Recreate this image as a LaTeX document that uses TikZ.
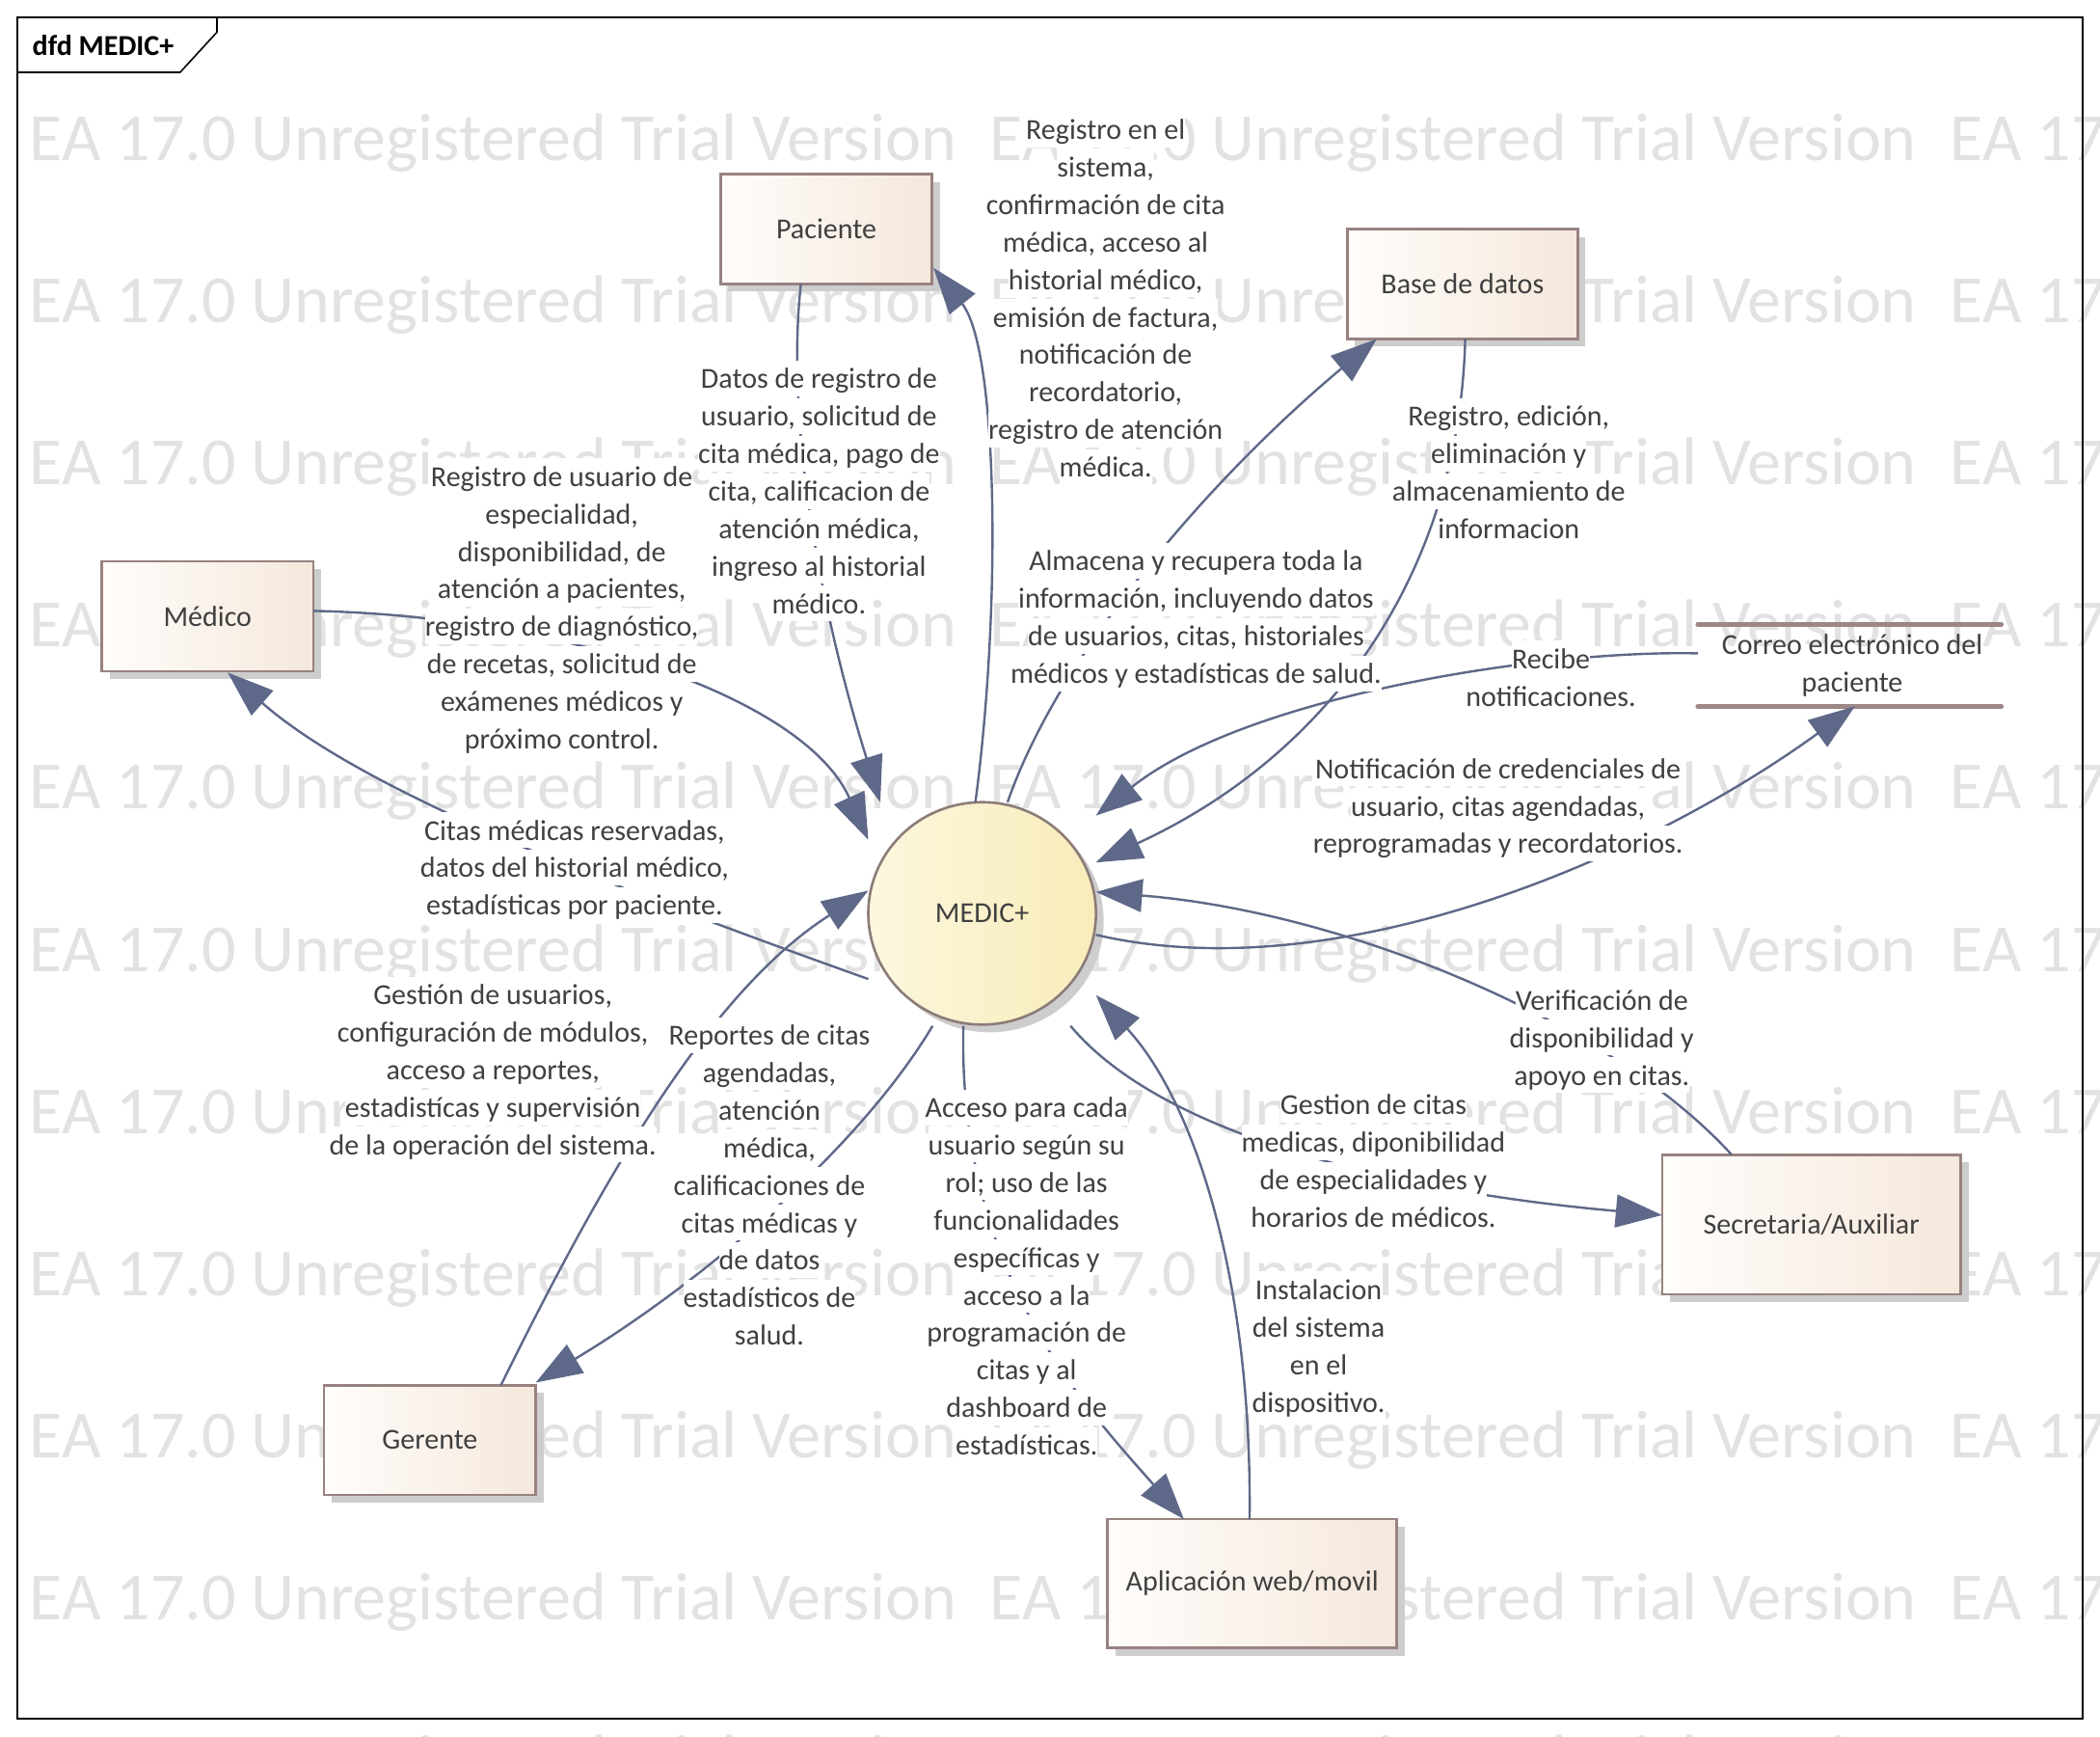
\documentclass[tikz,border=0pt]{standalone}
\usepackage{fontspec}
\setmainfont{Carlito}
\usetikzlibrary{arrows.meta,calc,shadows,shapes.geometric}
\definecolor{boxL}{RGB}{255,253,251}
\definecolor{boxR}{RGB}{245,232,220}
\definecolor{boxB}{RGB}{152,130,128}
\definecolor{cirL}{RGB}{252,247,222}
\definecolor{cirR}{RGB}{248,236,186}
\definecolor{cirB}{RGB}{140,124,120}
\definecolor{shad}{RGB}{205,205,205}
\definecolor{flowc}{RGB}{94,104,136}
\definecolor{txt}{RGB}{64,64,64}
\definecolor{wmc}{RGB}{226,226,226}
\definecolor{dsc}{RGB}{155,135,133}
\setlength{\fboxsep}{0pt}
\newcommand\wl[1]{\colorbox{white}{\rule[-4pt]{0pt}{18.5pt}#1}}
\def\px{0.6945pt}
\begin{document}
\begin{tikzpicture}[x=0.6945pt,y=-0.6945pt,
  entity/.style={rectangle, draw=boxB, line width=1.3pt, left color=boxL, right color=boxR,
    text=txt, font=\fontsize{15}{19.45}\selectfont,
    drop shadow={shadow xshift=4pt, shadow yshift=-4pt, fill=shad, opacity=1}},
  proc/.style={ellipse, draw=cirB, line width=1.3pt, left color=cirL, right color=cirR,
    text=txt, font=\fontsize{15}{19.45}\selectfont, inner sep=0pt,
    minimum width=170*\px, minimum height=166*\px,
    drop shadow={shadow xshift=4pt, shadow yshift=-4pt, fill=shad, opacity=1}},
  store/.style={rectangle, inner sep=0pt, minimum width=226*\px, minimum height=60.5*\px,
    text=txt, align=center, font=\fontsize{15}{19.45}\selectfont},
  storeline/.style={draw=dsc, line width=2.5pt, line cap=round},
  flow/.style={draw=flowc, line width=1.2pt, -{Triangle[length=24pt,width=17pt]}},
  lbl/.style={text=txt, align=center, inner sep=0pt, font=\fontsize{15}{19.45}\selectfont},
  wm/.style={text=wmc, anchor=base west, inner sep=0pt, font=\fontsize{35}{40}\selectfont},
  framec/.style={draw=black, line width=0.8pt}
]
\useasboundingbox (0,0) rectangle (1568,1296);

% watermark
\foreach \r in {0,...,10} {
  \foreach \c/\xx in {0/22,1/739,2/1456} {
    \node[wm] (wm-\r-\c) at (\xx,{120+121*\r}) {EA 17.0 Unregistered Trial Version};
  }
}

% frame
\draw[framec] (13,13) rectangle (1555,1283);
\draw[framec] (13,54) -- (134.5,54) -- (162,24) -- (162,13);
\node[anchor=west, inner sep=0pt, text=black, font=\fontsize{15}{18}\selectfont\bfseries] (title) at (24,34) {dfd MEDIC+};

% nodes
\node[entity, minimum width=158*\px, minimum height=82*\px] (paciente) at (617,171) {Paciente};
\node[entity, minimum width=172*\px, minimum height=82*\px] (base) at (1092,212) {Base de datos};
\node[entity, minimum width=158*\px, minimum height=82*\px] (medico) at (155,460) {Médico};
\node[entity, minimum width=223*\px, minimum height=104*\px] (secre) at (1352.5,914) {Secretaria/Auxiliar};
\node[entity, minimum width=158*\px, minimum height=82*\px] (gerente) at (321,1075) {Gerente};
\node[entity, minimum width=216*\px, minimum height=96*\px] (app) at (935,1182) {Aplicación web/movil};
\node[proc] (medic) at (733.3,681.8) {MEDIC+};
\node[store] (correo) at (1383,496.7) {Correo electrónico del\\paciente};
\draw[storeline] ($(correo.north west)+(-2,0)$) -- ($(correo.north east)+(-2,0)$);
\draw[storeline] ($(correo.south west)+(-2,0)$) -- ($(correo.south east)+(-2,0)$);

% connectors
\draw[flow] ($(paciente.center)+(-19,41)$) .. controls (585,330) and (620,480) .. ($(medic.center)+(-76,-83)$);
\draw[flow] ($(medic.center)+(-5,-83)$) .. controls (748,450) and (745,260) .. ($(paciente.center)+(80,29)$);
\draw[flow] ($(medic.center)+(19,-83)$) .. controls (790,490) and (900,360) .. ($(base.center)+(-64,41)$);
\draw[flow] ($(base.center)+(2,41)$) .. controls (1090,420) and (1000,560) .. ($(medic.center)+(85,-38)$);
\draw[flow] ($(correo.west)+(-2,-9)$) .. controls (1150,485) and (930,520) .. ($(medic.center)+(85,-73)$);
\draw[flow] ($(medic.center)+(85,16)$) .. controls (1000,740) and (1230,640) .. ($(correo.south)+(2,0)$);
\draw[flow] ($(medico.center)+(79,-4)$) .. controls (420,460) and (600,520) .. ($(medic.center)+(-85,-55)$);
\draw[flow] ($(medic.center)+(-85,49)$) .. controls (450,660) and (270,590) .. ($(medico.center)+(15,42)$);
\draw[flow] ($(gerente.center)+(53,-41)$) .. controls (450,880) and (530,740) .. ($(medic.center)+(-85,-17)$);
\draw[flow] ($(secre.center)+(-59.5,-52)$) .. controls (1200,760) and (1000,680) .. ($(medic.center)+(85,-16)$);
\draw[flow] ($(medic.center)+(66,84)$) .. controls (870,850) and (1050,890) .. ($(secre.center)+(-111.5,-7)$);
\draw[flow] ($(app.center)+(-2,-48)$) .. controls (935,950) and (890,820) .. ($(medic.center)+(85,61)$);
\draw[flow] ($(medic.center)+(-37,84)$) .. controls (640,860) and (520,960) .. ($(gerente.center)+(79,-43)$);
\draw[flow] ($(medic.center)+(-14,84)$) .. controls (715,950) and (810,1050) .. ($(app.center)+(-51,-48)$);

% labels
\node[lbl] (l1) at (611.5,366.5) {\wl{Datos de registro de}\\\wl{usuario, solicitud de}\\\wl{cita médica, pago de}\\\wl{cita, calificacion de}\\\wl{atención médica,}\\\wl{ingreso al historial}\\\wl{médico.}};
\node[lbl] (l2) at (825.5,222.5) {\wl{Registro en el}\\\wl{sistema,}\\\wl{confirmación de cita}\\\wl{médica, acceso al}\\\wl{historial médico,}\\\wl{emisión de factura,}\\\wl{notificación de}\\\wl{recordatorio,}\\\wl{registro de atención}\\\wl{médica.}};
\node[lbl] (l3) at (893,460.5) {\wl{Almacena y recupera toda la}\\\wl{información, incluyendo datos}\\\wl{de usuarios, citas, historiales}\\\wl{médicos y estadísticas de salud.}};
\node[lbl] (l4) at (1126.5,352.5) {\wl{Registro, edición,}\\\wl{eliminación y}\\\wl{almacenamiento de}\\\wl{informacion}};
\node[lbl] (l5) at (1158,505.5) {\wl{Recibe}\\\wl{notificaciones.}};
\node[lbl] (l6) at (1118.5,601.5) {\wl{Notificación de credenciales de}\\\wl{usuario, citas agendadas,}\\\wl{reprogramadas y recordatorios.}};
\node[lbl] (l7) at (419.5,453.5) {\wl{Registro de usuario de}\\\wl{especialidad,}\\\wl{disponibilidad, de}\\\wl{atención a pacientes,}\\\wl{registro de diagnóstico,}\\\wl{de recetas, solicitud de}\\\wl{exámenes médicos y}\\\wl{próximo control.}};
\node[lbl] (l8) at (429,647.5) {\wl{Citas médicas reservadas,}\\\wl{datos del historial médico,}\\\wl{estadísticas por paciente.}};
\node[lbl] (l9) at (368,798.5) {\wl{Gestión de usuarios,}\\\wl{configuración de módulos,}\\\wl{acceso a reportes,}\\\wl{estadistícas y supervisión}\\\wl{de la operación del sistema.}};
\node[lbl] (l10) at (574.5,884.5) {\wl{Reportes de citas}\\\wl{agendadas,}\\\wl{atención}\\\wl{médica,}\\\wl{calificaciones de}\\\wl{citas médicas y}\\\wl{de datos}\\\wl{estadísticos de}\\\wl{salud.}};
\node[lbl] (l11) at (1196,774.5) {\wl{Verificación de}\\\wl{disponibilidad y}\\\wl{apoyo en citas.}};
\node[lbl] (l12) at (1025.5,866.5) {\wl{Gestion de citas}\\\wl{medicas, diponibilidad}\\\wl{de especialidades y}\\\wl{horarios de médicos.}};
\node[lbl] (l13) at (984.5,1004.5) {\wl{Instalacion}\\\wl{del sistema}\\\wl{en el}\\\wl{dispositivo.}};
\node[lbl] (l14) at (766.5,952.5) {\wl{Acceso para cada}\\\wl{usuario según su}\\\wl{rol; uso de las}\\\wl{funcionalidades}\\\wl{específicas y}\\\wl{acceso a la}\\\wl{programación de}\\\wl{citas y al}\\\wl{dashboard de}\\\wl{estadísticas.}};
\end{tikzpicture}
\end{document}
